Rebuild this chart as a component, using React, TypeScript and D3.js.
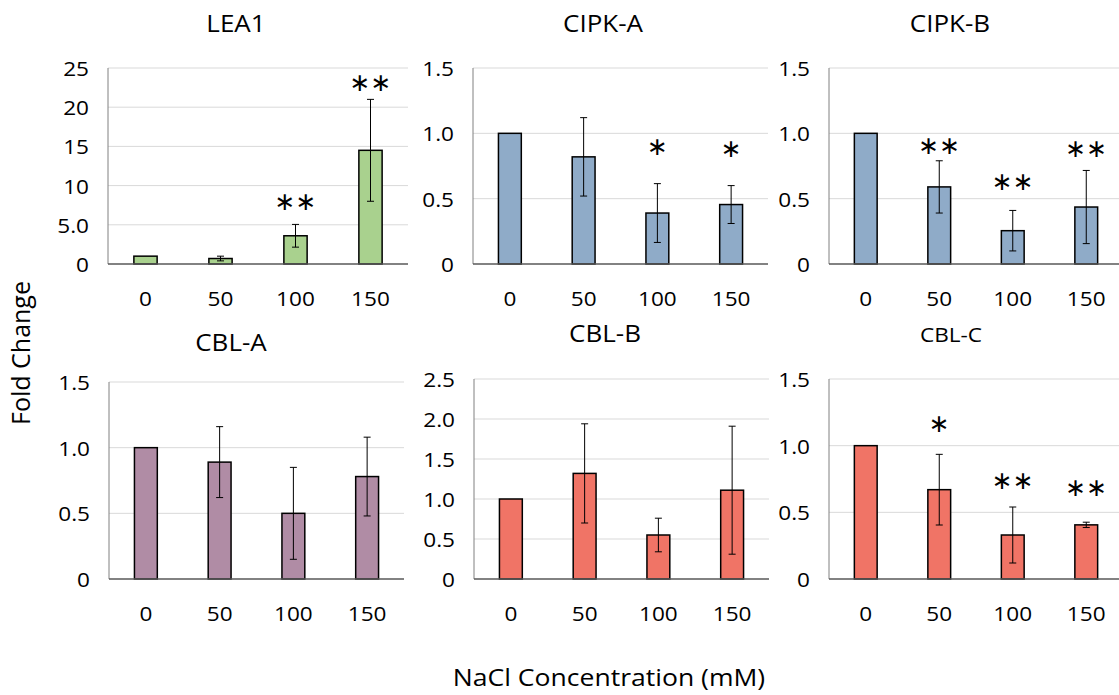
import React from "react";
import * as d3 from "d3";

// NaCl treatment levels (mM)
const categories = ["0", "50", "100", "150"];

// Relative expression (fold change) with error bars and significance marks
const lea1Mean = [1.0, 0.7, 3.6, 14.5];
const lea1Err = [0, 0.3, 1.45, 6.5];
const lea1Stars = ["", "", "**", "**"];
const lea1StarLevel = [0, 0, 8.0, 23.1];

const cipkAMean = [1.0, 0.82, 0.39, 0.455];
const cipkAErr = [0, 0.3, 0.225, 0.145];
const cipkAStars = ["", "", "*", "*"];
const cipkAStarLevel = [0, 0, 0.9, 0.885];

const cipkBMean = [1.0, 0.59, 0.255, 0.436];
const cipkBErr = [0, 0.2, 0.155, 0.28];
const cipkBStars = ["", "**", "**", "**"];
const cipkBStarLevel = [0, 0.905, 0.63, 0.885];

const cblAMean = [1.0, 0.89, 0.5, 0.78];
const cblAErr = [0, 0.27, 0.35, 0.3];

const cblBMean = [1.0, 1.32, 0.55, 1.11];
const cblBErr = [0, 0.62, 0.21, 0.8];

const cblCMean = [1.0, 0.67, 0.33, 0.406];
const cblCErr = [0, 0.265, 0.21, 0.02];
const cblCStars = ["", "*", "**", "**"];
const cblCStarLevel = [0, 1.165, 0.737, 0.69];

// Y-axis tick values and their printed labels
const leaTicks = [0, 5, 10, 15, 20, 25];
const leaTickLabels = ["0", "5.0", "10", "15", "20", "25"];
const unitTicks = [0, 0.5, 1.0, 1.5];
const unitTickLabels = ["0", "0.5", "1.0", "1.5"];
const wideTicks = [0, 0.5, 1.0, 1.5, 2.0, 2.5];
const wideTickLabels = ["0", "0.5", "1.0", "1.5", "2.0", "2.5"];

const none = ["", "", "", ""];
const zeros = [0, 0, 0, 0];

const panels = [
  { title: "LEA1", mean: lea1Mean, err: lea1Err, stars: lea1Stars, starAt: lea1StarLevel, ticks: leaTicks, tickLabels: leaTickLabels, fill: "#a9d18e",
    box: { x0: 108, x1: 408, top: 68, bottom: 264, titleX: 236, titleY: 32, titleSize: 23 } },
  { title: "CIPK-A", mean: cipkAMean, err: cipkAErr, stars: cipkAStars, starAt: cipkAStarLevel, ticks: unitTicks, tickLabels: unitTickLabels, fill: "#8fabc8",
    box: { x0: 473, x1: 768, top: 68, bottom: 264, titleX: 603, titleY: 32, titleSize: 23 } },
  { title: "CIPK-B", mean: cipkBMean, err: cipkBErr, stars: cipkBStars, starAt: cipkBStarLevel, ticks: unitTicks, tickLabels: unitTickLabels, fill: "#8fabc8",
    box: { x0: 829, x1: 1123, top: 68, bottom: 264, titleX: 950, titleY: 32, titleSize: 23 } },
  { title: "CBL-A", mean: cblAMean, err: cblAErr, stars: none, starAt: zeros, ticks: unitTicks, tickLabels: unitTickLabels, fill: "#b08ca5",
    box: { x0: 109, x1: 404, top: 382, bottom: 579, titleX: 231, titleY: 351, titleSize: 23 } },
  { title: "CBL-B", mean: cblBMean, err: cblBErr, stars: none, starAt: zeros, ticks: wideTicks, tickLabels: wideTickLabels, fill: "#f07466",
    box: { x0: 474, x1: 769, top: 379, bottom: 579, titleX: 605, titleY: 342, titleSize: 23 } },
  { title: "CBL-C", mean: cblCMean, err: cblCErr, stars: cblCStars, starAt: cblCStarLevel, ticks: unitTicks, tickLabels: unitTickLabels, fill: "#f07466",
    box: { x0: 829, x1: 1123, top: 379, bottom: 579, titleX: 951, titleY: 342, titleSize: 20 } },
];

const FONT = "'Open Sans', sans-serif";
const STRETCH = 1.13;

function Label({ x, y, size, anchor = "middle", baseline, children }: any) {
  return (
    <text
      transform={`translate(${x},${y}) scale(${STRETCH},1)`}
      fontSize={size}
      textAnchor={anchor}
      dominantBaseline={baseline}
      fill="#000"
    >
      {children}
    </text>
  );
}

function Panel({ p }: any) {
  const { box } = p;
  const x = d3.scaleBand<string>().domain(categories).range([box.x0, box.x1]);
  const yMax = p.ticks[p.ticks.length - 1];
  const y = d3.scaleLinear().domain([0, yMax]).range([box.bottom, box.top]);
  const bw = x.bandwidth() * 0.31;
  const cap = 3.5;

  return (
    <g>
      {/* gridlines */}
      {p.ticks.slice(1).map((t: number) => (
        <line key={t} x1={box.x0} x2={box.x1} y1={y(t)} y2={y(t)} stroke="#d9d9d9" strokeWidth={1} />
      ))}
      {/* y tick labels */}
      {p.ticks.map((t: number, i: number) => (
        <Label key={t} x={box.x0 - 19} y={y(t)} size={20} anchor="end" baseline="central">
          {p.tickLabels[i]}
        </Label>
      ))}
      {/* bars */}
      {categories.map((c, i) => {
        const cx = x(c)! + x.bandwidth() / 2;
        return (
          <rect key={c} x={cx - bw / 2} y={y(p.mean[i])} width={bw} height={y(0) - y(p.mean[i])}
            fill={p.fill} stroke="#000" strokeWidth={1.5} />
        );
      })}
      {/* error bars */}
      {categories.map((c, i) => {
        if (!p.err[i]) return null;
        const cx = x(c)! + x.bandwidth() / 2;
        const hi = y(p.mean[i] + p.err[i]);
        const lo = y(p.mean[i] - p.err[i]);
        return (
          <g key={c} stroke="#000" strokeWidth={1}>
            <line x1={cx} x2={cx} y1={hi} y2={lo} />
            <line x1={cx - cap} x2={cx + cap} y1={hi} y2={hi} />
            <line x1={cx - cap} x2={cx + cap} y1={lo} y2={lo} />
          </g>
        );
      })}
      {/* axes */}
      <line x1={box.x0} x2={box.x0} y1={box.top} y2={box.bottom} stroke="#808080" strokeWidth={1} />
      <line x1={box.x0} x2={box.x1} y1={box.bottom} y2={box.bottom} stroke="#595959" strokeWidth={1.3} />
      {/* x tick labels */}
      {categories.map((c) => (
        <Label key={c} x={x(c)! + x.bandwidth() / 2} y={box.bottom + 42} size={20}>
          {c}
        </Label>
      ))}
      {/* significance marks */}
      {categories.map((c, i) =>
        p.stars[i] ? (
          <text key={c} x={x(c)! + x.bandwidth() / 2} y={y(p.starAt[i])} fontSize={25}
            fontFamily="'DejaVu Sans', sans-serif" textAnchor="middle" dominantBaseline="central" fill="#000">
            {p.stars[i].replace(/\*/g, "\u2217")}
          </text>
        ) : null
      )}
      {/* title */}
      <Label x={box.titleX} y={box.titleY} size={box.titleSize}>{p.title}</Label>
    </g>
  );
}

export default function App() {
  return (
    <svg width={1119} height={695} style={{ position: "absolute", left: 0, top: 0, background: "#fff" }}
      fontFamily={FONT}>
      <rect width={1119} height={695} fill="#fff" />
      {panels.map((p) => (
        <Panel key={p.title} p={p} />
      ))}
      <text transform="translate(30,353) rotate(-90)" fontSize={25} textAnchor="middle" fill="#000">
        Fold Change
      </text>
      <Label x={609} y={686} size={23.5}>NaCl Concentration (mM)</Label>
    </svg>
  );
}
